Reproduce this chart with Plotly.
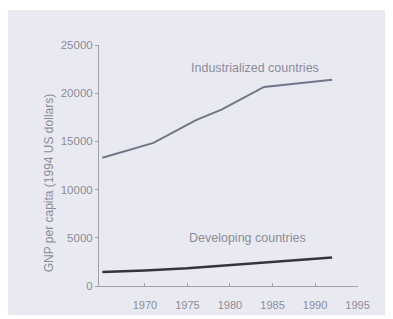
import plotly.graph_objects as go

ind_years = [1965, 1971, 1976, 1979, 1984, 1992]
ind_values = [13300, 14850, 17200, 18300, 20650, 21400]
dev_years = [1965, 1970, 1975, 1980, 1985, 1992]
dev_values = [1450, 1600, 1830, 2180, 2520, 2950]
x_ticks = [1970, 1975, 1980, 1985, 1990, 1995]
y_ticks = [0, 5000, 10000, 15000, 20000, 25000]
y_tick_labels = ["0", "5000", "10000", "15000", "20000", "25000"]

FONT = "Liberation Sans Narrow, Liberation Sans, Arial, sans-serif"
TXT = "#8c8c96"

fig = go.Figure()
fig.add_trace(go.Scatter(x=ind_years, y=ind_values, mode="lines",
                         line=dict(color="#74748a", width=2), showlegend=False))
fig.add_trace(go.Scatter(x=dev_years, y=dev_values, mode="lines",
                         line=dict(color="#34343e", width=2.5), showlegend=False))

fig.add_annotation(x=1982.9, y=22600, text="Industrialized countries", showarrow=False,
                   font=dict(family=FONT, size=12.5, color=TXT))
fig.add_annotation(x=1982.1, y=4980, text="Developing countries", showarrow=False,
                   font=dict(family=FONT, size=12.5, color=TXT))
fig.add_annotation(xref="paper", yref="paper", x=-0.228, y=0.43, textangle=-90,
                   text="GNP per capita (1994 US dollars)", showarrow=False,
                   font=dict(family=FONT, size=12, color=TXT))

fig.add_shape(type="rect", xref="paper", yref="paper", x0=-0.36, x1=1.2, y0=-0.12, y1=1.145,
              fillcolor="#e9e9f2", line=dict(width=0), layer="below")

fig.update_layout(
    width=385, height=311,
    margin=dict(l=91, r=35, t=37, b=33),
    paper_bgcolor="white", plot_bgcolor="rgba(0,0,0,0)",
    font=dict(family=FONT, size=10, color=TXT),
    xaxis=dict(range=[1964.6, 1995.05], tickvals=x_ticks, ticks="inside", ticklen=3,
               tickcolor="#a0a0aa", showline=True, linecolor="#a0a0aa", linewidth=1,
               showgrid=False, zeroline=False, ticklabelstandoff=9, automargin=False,
               tickfont=dict(family=FONT, size=11, color=TXT)),
    yaxis=dict(range=[0, 25000], tickvals=y_ticks, ticktext=y_tick_labels,
               ticks="outside", ticklen=3, automargin=False,
               tickcolor="#a0a0aa", showline=True, linecolor="#a0a0aa", linewidth=1,
               showgrid=False, zeroline=False,
               tickfont=dict(family=FONT, size=11.5, color=TXT)),
)

fig.write_html("out.html")
